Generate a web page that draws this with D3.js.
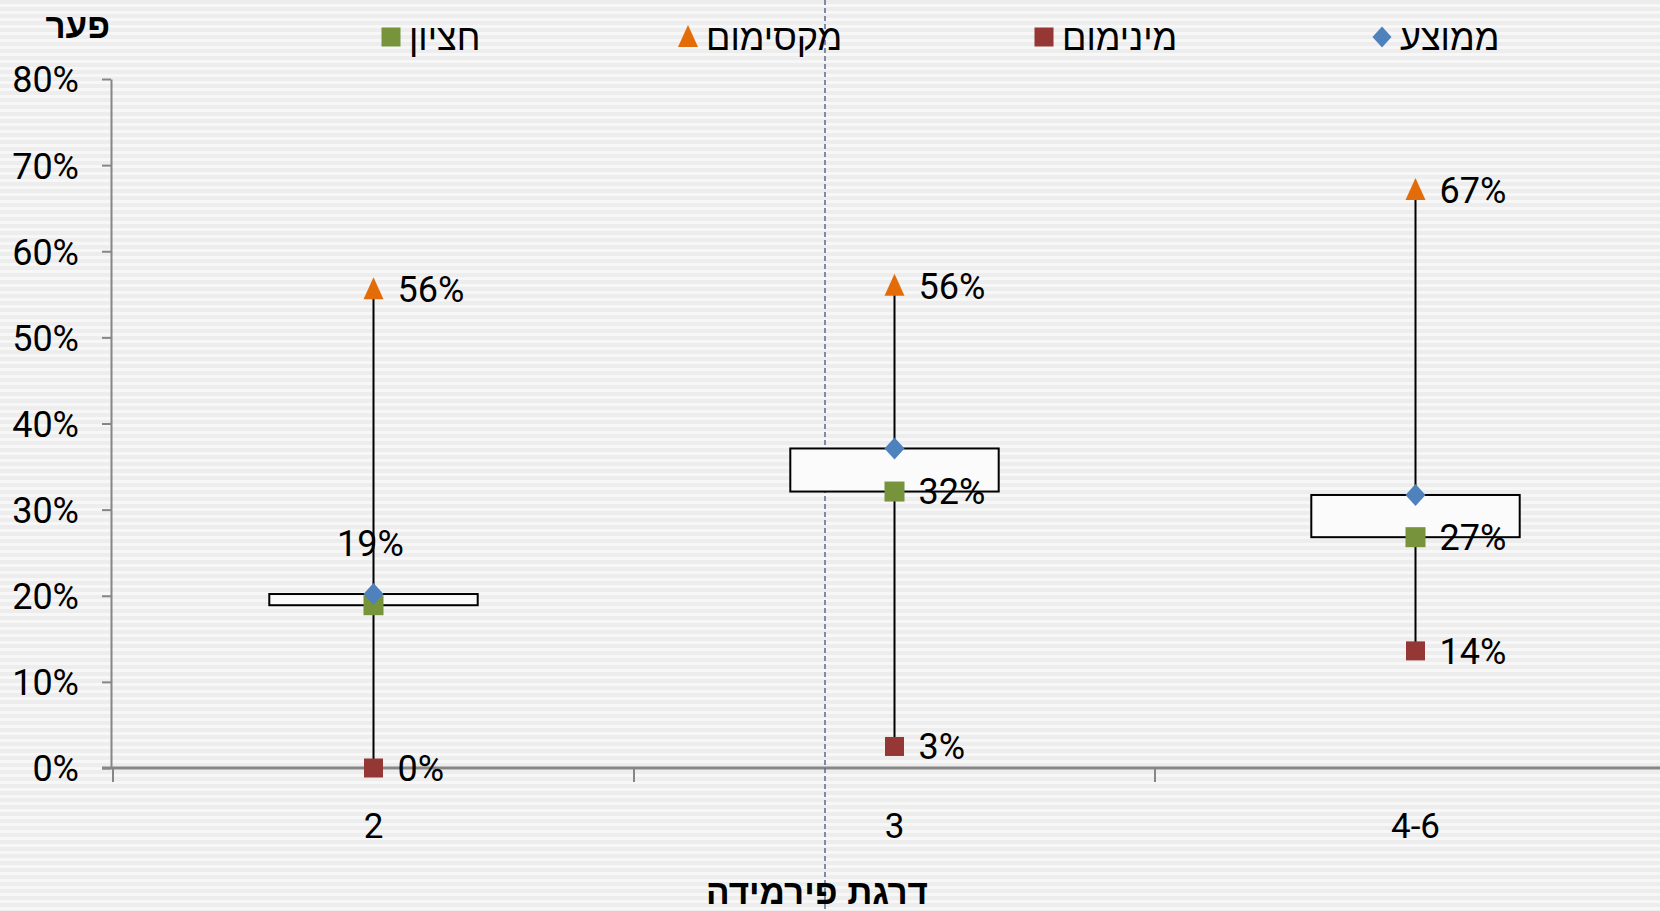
<!DOCTYPE html>
<html>
<head>
<meta charset="utf-8">
<script src="https://cdn.jsdelivr.net/npm/d3@7"></script>
<style>
  html, body { margin: 0; padding: 0; background: #efefef; }
  svg text { font-family: Roboto, "Liberation Sans", "DejaVu Sans", sans-serif; fill: #000; }
  svg text.heb { font-family: "Liberation Sans", "DejaVu Sans", sans-serif; }
</style>
</head>
<body>
<div id="chart"></div>
<script>
// data
var categories = ["2", "3", "4-6"];
var maxValues = [0.556, 0.56, 0.671];
var minValues = [0.0, 0.025, 0.136];
var meanValues = [0.202, 0.371, 0.317];
var medianValues = [0.189, 0.321, 0.268];
var yTicks = [0, 0.1, 0.2, 0.3, 0.4, 0.5, 0.6, 0.7, 0.8];

var legendItems = [
    {name: "ממוצע", shape: "diamond", color: "#4F81BD"},
    {name: "מינימום", shape: "square", color: "#953735"},
    {name: "מקסימום", shape: "triangle", color: "#E36C09"},
    {name: "חציון", shape: "square", color: "#77933C"}
];

var W = 1660, H = 911;
var margin = {top: 79, left: 111};
var plotH = 689;
var bandW = 521;

var svg = d3.select("#chart").append("svg")
    .attr("width", W)
    .attr("height", H);

// striped background
var defs = svg.append("defs");
var pat = defs.append("pattern")
    .attr("id", "stripes")
    .attr("patternUnits", "userSpaceOnUse")
    .attr("width", 8).attr("height", 7);
pat.append("rect").attr("width", 8).attr("height", 7).attr("fill", "#ededed");
pat.append("rect").attr("y", 4).attr("width", 8).attr("height", 3).attr("fill", "#f7f7f7");
svg.append("rect").attr("width", W).attr("height", H).attr("fill", "url(#stripes)");

var x = d3.scaleBand()
    .domain(categories)
    .range([margin.left + 2, margin.left + 2 + bandW * categories.length]);

var y = d3.scaleLinear()
    .domain([0, 0.8])
    .range([margin.top + plotH, margin.top]);

var pct = d3.format(".0%");

// y axis
var yAxis = svg.append("g")
    .attr("transform", "translate(" + margin.left + ",0)")
    .call(d3.axisLeft(y).tickValues(yTicks).tickFormat(pct).tickSize(9).tickSizeOuter(0).tickPadding(23));
yAxis.select(".domain").attr("stroke", "#868686").attr("stroke-width", 2);
yAxis.selectAll(".tick line").attr("stroke", "#868686").attr("stroke-width", 2);
yAxis.selectAll(".tick text")
    .style("font-size", "36px")
    .attr("dy", "0.36em");

// x axis line and boundary ticks
var y0 = y(0);
svg.append("line")
    .attr("x1", margin.left - 9).attr("x2", W)
    .attr("y1", y0).attr("y2", y0)
    .attr("stroke", "#868686").attr("stroke-width", 3);

svg.selectAll("line.xtick")
    .data(categories)
    .enter().append("line")
    .attr("class", "xtick")
    .attr("x1", function(d) { return x(d); })
    .attr("x2", function(d) { return x(d); })
    .attr("y1", y0).attr("y2", y0 + 14)
    .attr("stroke", "#868686").attr("stroke-width", 2);

svg.selectAll("text.xlabel")
    .data(categories)
    .enter().append("text")
    .attr("class", "xlabel")
    .attr("x", function(d) { return x(d) + x.bandwidth() / 2; })
    .attr("y", y0 + 70)
    .attr("text-anchor", "middle")
    .style("font-size", "35px")
    .text(function(d) { return d; });

// dashed vertical guide
svg.append("line")
    .attr("x1", 825).attr("x2", 825)
    .attr("y1", 0).attr("y2", H)
    .attr("stroke", "#5b6a8c").attr("stroke-width", 1.5)
    .attr("stroke-dasharray", "5,3");

var cx = function(i) { return x(categories[i]) + x.bandwidth() / 2; };
var idx = d3.range(categories.length);

// high-low lines
svg.selectAll("line.whisker")
    .data(idx)
    .enter().append("line")
    .attr("class", "whisker")
    .attr("x1", cx).attr("x2", cx)
    .attr("y1", function(i) { return y(minValues[i]); })
    .attr("y2", function(i) { return y(maxValues[i]); })
    .attr("stroke", "#000").attr("stroke-width", 2);

// boxes between median and mean
var boxW = x.bandwidth() * 0.4;
svg.selectAll("rect.box")
    .data(idx)
    .enter().append("rect")
    .attr("class", "box")
    .attr("x", function(i) { return cx(i) - boxW / 2; })
    .attr("y", function(i) { return y(Math.max(meanValues[i], medianValues[i])); })
    .attr("width", boxW)
    .attr("height", function(i) { return Math.abs(y(meanValues[i]) - y(medianValues[i])); })
    .attr("fill", "#fbfbfb")
    .attr("stroke", "#000").attr("stroke-width", 2);

function drawShape(g, shape, color, size) {
    if (shape === "square") {
        g.append("rect")
            .attr("x", -size / 2).attr("y", -size / 2)
            .attr("width", size).attr("height", size)
            .attr("fill", color);
    } else if (shape === "triangle") {
        g.append("path")
            .attr("d", "M0," + (-size * 0.6) + "L" + (size * 0.5) + "," + (size * 0.5) + "L" + (-size * 0.5) + "," + (size * 0.5) + "Z")
            .attr("fill", color);
    } else {
        g.append("path")
            .attr("d", "M0," + (-size * 0.55) + "L" + (size * 0.5) + ",0L0," + (size * 0.55) + "L" + (-size * 0.5) + ",0Z")
            .attr("fill", color);
    }
}

function markers(values, shape, color, size) {
    idx.forEach(function(i) {
        var g = svg.append("g").attr("transform", "translate(" + cx(i) + "," + y(values[i]) + ")");
        drawShape(g, shape, color, size);
    });
}

markers(maxValues, "triangle", "#E36C09", 20);
markers(minValues, "square", "#953735", 19);
markers(medianValues, "square", "#77933C", 20);
markers(meanValues, "diamond", "#4F81BD", 20);

// data labels
function labels(values, cls) {
    svg.selectAll("text." + cls)
        .data(idx)
        .enter().append("text")
        .attr("class", cls)
        .attr("x", function(i) { return cx(i) + 24; })
        .attr("y", function(i) { return y(values[i]); })
        .attr("dy", "0.36em")
        .style("font-size", "36px")
        .text(function(i) { return pct(values[i]); });
}
labels(maxValues, "maxlabel");
labels(minValues, "minlabel");

// median label: above when the box is too thin
var thin = function(i) { return (meanValues[i] - medianValues[i]) < 0.03; };
svg.selectAll("text.medlabel")
    .data(idx)
    .enter().append("text")
    .attr("class", "medlabel")
    .attr("x", function(i) { return thin(i) ? cx(i) - 3 : cx(i) + 24; })
    .attr("y", function(i) { return thin(i) ? y(medianValues[i]) - 62 : y(medianValues[i]); })
    .attr("dy", "0.36em")
    .attr("text-anchor", function(i) { return thin(i) ? "middle" : "start"; })
    .style("font-size", "36px")
    .text(function(i) { return pct(medianValues[i]); });

// legend
var legendX = [1382, 1044, 688, 391];
var leg = svg.selectAll("g.legend")
    .data(legendItems)
    .enter().append("g")
    .attr("class", "legend")
    .attr("transform", function(d, i) { return "translate(" + legendX[i] + ",37)"; });
leg.each(function(d) { drawShape(d3.select(this), d.shape, d.color, d.shape === "triangle" ? 20 : 19); });
leg.append("text")
    .attr("class", "heb")
    .attr("x", 18)
    .attr("dy", "0.36em")
    .attr("text-anchor", "start")
    .style("font-size", "36px")
    .text(function(d) { return d.name; });

// axis titles
svg.append("text")
    .attr("class", "heb")
    .attr("x", 110).attr("y", 38)
    .attr("text-anchor", "end")
    .style("font-size", "35px")
    .style("font-weight", "bold")
    .text("פער");

svg.append("text")
    .attr("class", "heb")
    .attr("x", 817).attr("y", 904)
    .attr("text-anchor", "middle")
    .style("font-size", "35px")
    .style("font-weight", "bold")
    .text("דרגת פירמידה");
</script>
</body>
</html>
